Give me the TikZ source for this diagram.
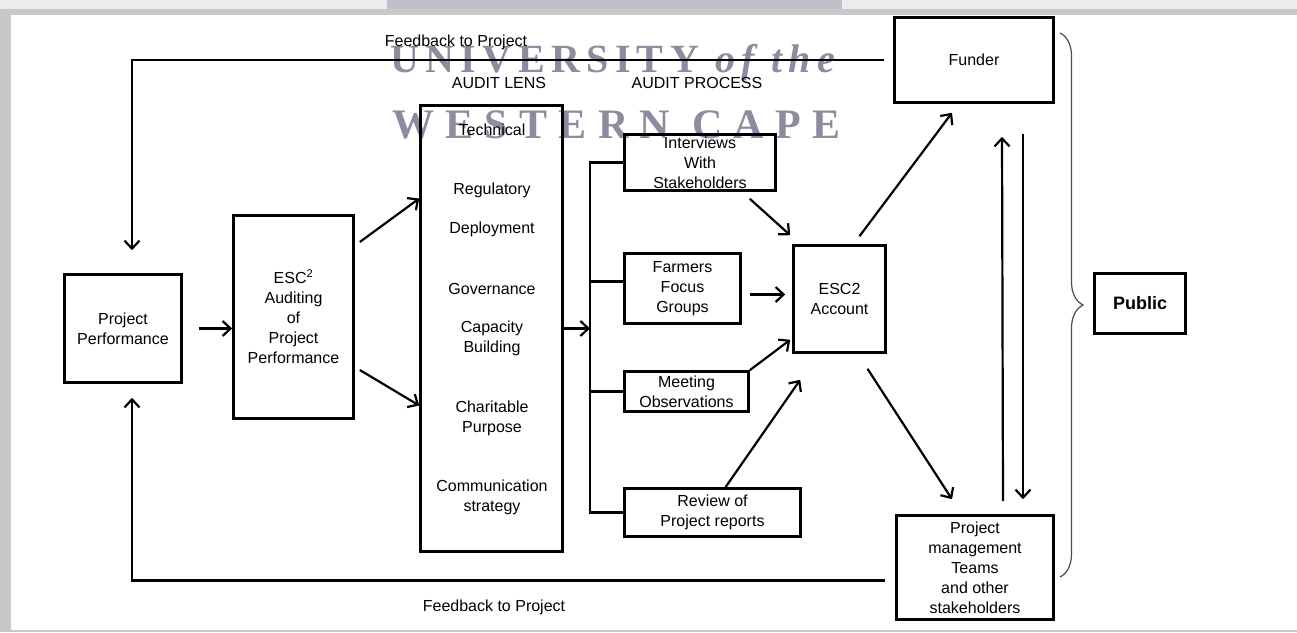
\documentclass[tikz,border=0pt]{standalone}
\usepackage{fontspec}
\setmainfont{Liberation Sans}
\newfontfamily\wmfont{Liberation Serif}
\usetikzlibrary{arrows.meta, positioning, decorations.pathreplacing}
\definecolor{wmgray}{RGB}{140,140,160}
\definecolor{framegray}{RGB}{200,200,200}

\begin{document}
\begin{tikzpicture}[x=1pt, y=-1pt,
  box/.style = {draw, line width=2.6pt, align=center, inner sep=0pt,
    font=\fontsize{16}{20}\selectfont},
  lensitem/.style = {align=center, font=\fontsize{16}{20}\selectfont},
  caption/.style = {font=\fontsize{16}{20}\selectfont},
  arr/.style = {line width=2.2pt, -{Straight Barb[length=8pt,width=15pt]}},
  link/.style = {line width=2.2pt},
  wm/.style = {text=wmgray, anchor=base west, inner sep=0pt,
    font=\wmfont\bfseries\fontsize{40}{40}\selectfont}]
  \useasboundingbox (0,0) rectangle (1297,632);
  % page frame
  \fill[framegray] (0,0) rectangle (1297,632);
  \fill[gray!15] (0,0) rectangle (1297,9);
  \fill[white] (11,15) rectangle (1297,630);
  \fill[wmgray!55] (387,0) rectangle (842,9);
  % watermark
  \node[wm] (wmtop) at (390,72) {\addfontfeatures{LetterSpace=16}UNIVERSITY \textit{of the}};
  \node[wm, font=\wmfont\bfseries\fontsize{42}{42}\selectfont] (wmbot) at (392,138)
    {\addfontfeatures{LetterSpace=27}WESTERN CAPE};

  \node[box, minimum width=117pt, minimum height=108pt] (pp) at (123,328.5) {Project\\Performance};
  \node[box, minimum width=120pt, minimum height=203pt] (esc) at (293.5,317)
    {ESC\textsuperscript{2}\\Auditing\\of\\Project\\Performance};
  \node[box, minimum width=142pt, minimum height=446pt] (lens) at (491.5,328.5) {};
  \node[lensitem] (technical) at (492,130) {Technical};
  \node[lensitem] (regulatory) at (492,190) {Regulatory};
  \node[lensitem] (deployment) at (492,229) {Deployment};
  \node[lensitem] (governance) at (492,289) {Governance};
  \node[lensitem] (capacity) at (492,338.5) {Capacity\\Building};
  \node[lensitem] (charitable) at (492,418) {Charitable\\Purpose};
  \node[lensitem] (communication) at (492,497) {Communication\\strategy};

  \node[box, minimum width=151pt, minimum height=56pt] (intv) at (700,162.5) {Interviews\\With\\Stakeholders};
  \node[box, minimum width=116pt, minimum height=70pt] (farm) at (682.5,288.5) {Farmers\\Focus\\Groups};
  \node[box, minimum width=124pt, minimum height=40pt] (meet) at (686.5,391.5) {Meeting\\Observations};
  \node[box, minimum width=176pt, minimum height=48pt] (rev) at (712.5,512.5) {Review of\\Project reports};
  \node[box, minimum width=92pt, minimum height=107pt] (acct) at (839.5,299) {ESC2\\Account};
  \node[box, minimum width=159pt, minimum height=85pt] (fund) at (974,60) {Funder};
  \node[box, minimum width=157pt, minimum height=104pt] (pm) at (975,567.5)
    {Project\\management\\Teams\\and other\\stakeholders};
  \node[box, minimum width=91pt, minimum height=60pt, font=\fontsize{18}{20}\selectfont\bfseries] (pub) at (1140,303.5) {Public};

  \node[caption] (fbtop) at (456,42) {Feedback to Project};
  \node[caption] (fbbot) at (494,607) {Feedback to Project};
  \node[caption] (lenslbl) at (499,83) {AUDIT LENS};
  \node[caption] (proclbl) at (697,83) {AUDIT PROCESS};

  % audit chain
  \draw[arr, shorten <=16pt] (pp.east) -- (pp.east -| esc.west);
  \draw[arr] ([xshift=5pt,yshift=75pt]esc.east) -- ([yshift=130pt]lens.west);
  \draw[arr] ([xshift=5pt,yshift=-53pt]esc.east) -- ([yshift=-77pt]lens.west);
  \coordinate (bus) at (590,328.5);
  \draw[arr] (lens.east) -- (bus);
  \draw[link] (intv.west) -| (bus) |- (rev.west);
  \draw[link] ([yshift=7pt]farm.west) -- ([yshift=7pt]farm.west -| bus);
  \draw[link] (meet.west) -- (meet.west -| bus);

  % into the account
  \draw[arr] ([xshift=-27pt,yshift=-7pt]intv.south east) -- ([xshift=-2pt,yshift=9pt]acct.north west);
  \draw[arr, shorten <=8pt, shorten >=7pt] ([yshift=-6pt]farm.east) -- ([yshift=-6pt]farm.east -| acct.west);
  \draw[arr] (meet.north east) -- ([xshift=-2pt,yshift=14pt]acct.south west);
  \draw[arr] ([xshift=13pt]rev.north) -- ([xshift=8pt,yshift=-26pt]acct.south west);

  % out to the stakeholders
  \draw[arr] ([xshift=20pt,yshift=8pt]acct.north) -- ([xshift=-22pt,yshift=-9pt]fund.south);
  \draw[arr] ([xshift=28pt,yshift=-15pt]acct.south) -- ([xshift=-23pt,yshift=15pt]pm.north);
  \draw[arr] ([xshift=28pt,yshift=13pt]pm.north) -- ([xshift=28pt,yshift=-33pt]fund.south);
  \draw[arr] ([xshift=49pt,yshift=-30pt]fund.south) -- ([xshift=48pt,yshift=15pt]pm.north);

  % feedback loops
  \draw[arr] ([xshift=-9pt]fund.west) -| ([xshift=9pt,yshift=23pt]pp.north);
  \draw[arr] ([xshift=-10pt,yshift=-13pt]pm.west) -| ([xshift=9pt,yshift=-14pt]pp.south);

  \draw[gray!60!black, line width=1.2pt, decorate, decoration={brace, amplitude=23pt}]
    (1060,33) -- (1060,577);
\end{tikzpicture}
\end{document}
